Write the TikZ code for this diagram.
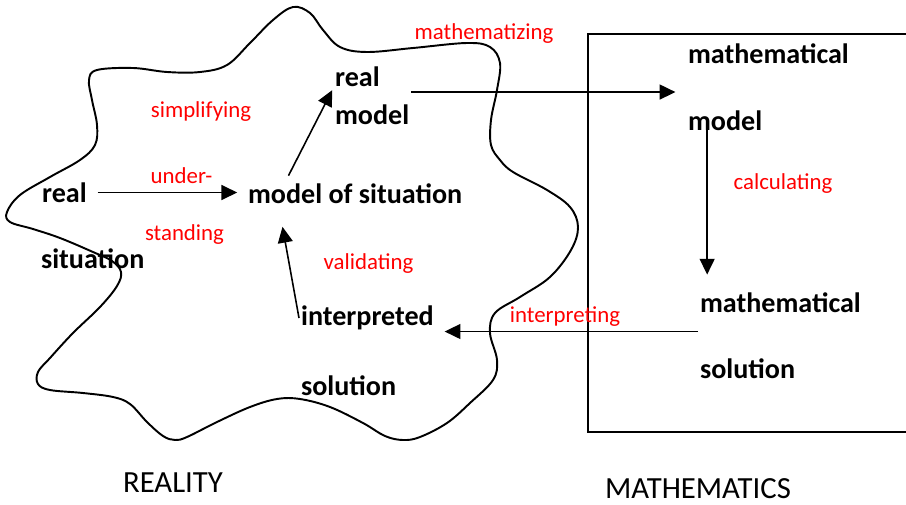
\documentclass[tikz,border=0pt]{standalone}
\usepackage{fontspec}
\setmainfont{Carlito}
\usepackage{tikz}
\usetikzlibrary{arrows.meta,calc}
\newcommand{\gunit}{0.02cm}
\newcommand{\inners}{1pt}

\begin{document}
\begin{tikzpicture}[x=\gunit, y=-\gunit]
        \tikzset{term/.style = {font=\fontsize{16}{19}\selectfont\bfseries, inner sep=\inners, anchor=west}}
        \tikzset{act/.style = {font=\fontsize{13}{15}\selectfont, text=red, inner sep=\inners}}
        \tikzset{world/.style = {font=\fontsize{17.5}{21}\selectfont, inner sep=\inners}}
        \tikzset{flow/.style = {-{Triangle[length=9pt, width=8.5pt]}, line width=0.9pt}}
        \useasboundingbox (0,0) rectangle (906,504);
        
        \draw[line width=1.1pt] plot[smooth cycle, tension=0.6] coordinates {
            (7,212) (20,195) (50,177) (80,160) (95,145) (97,125) (92,100) (89,80)
            (97,70) (133,68) (167,72) (200,72) (227,65) (250,43) (273,20) (293,7)
            (310,13) (323,30) (340,47) (367,52) (413,48) (467,43) (490,47) (500,63)
            (497,90) (491,120) (491,145) (500,160) (513,172) (547,190) (570,207) (578,227)
            (571,250) (550,277) (520,297) (495,313) (490,333) (497,360) (493,380) (470,403)
            (447,423) (420,437) (403,440) (385,436) (363,423) (330,407) (300,399) (277,399)
            (250,407) (217,422) (187,437) (175,440) (163,436) (147,422) (130,404) (113,397)
            (83,393) (50,390) (38,384) (38,372) (50,358) (73,333) (100,307) (117,286)
            (121,272) (112,261) (93,252) (60,238) (33,229) (10,222)};
        
        \draw[line width=1.1pt] (906,34) -- (588,34) -- (588,432) -- (906,432);
        
        \node[term] (realw) at (40,192.5) {real};
        \node[term] (situ) at (39,259) {situation};
        \node[term] (mos) at (246,194) {model of situation};
        \node[term] (realm) at (333,76.5) {real};
        \node[term] (modelm) at (333,114.5) {model};
        \node[term] (interp) at (299,318) {interpreted};
        \node[term] (soll) at (299,386) {solution};
        \node[term] (matha) at (686,54) {mathematical};
        \node[term] (modelr) at (686,121) {model};
        \node[term] (mathb) at (698,302.5) {mathematical};
        \node[term] (solr) at (698,369) {solution};
        
        \node[world] (reality) at (173,483) {REALITY};
        \node[world] (maths) at (698,489) {MATHEMATICS};
        
        \node[act] (simp) at (201,111.5) {simplifying};
        \node[act] (under) at (181.5,175.5) {under-};
        \node[act] (stand) at (184.5,234.5) {standing};
        \node[act] (mathz) at (484,33.5) {mathematizing};
        \node[act] (calcg) at (783,183.5) {calculating};
        \node[act] (interpg) at (565,316.5) {interpreting};
        \node[act] (valid) at (368.5,263.5) {validating};
        
        \draw[flow, shorten <=5pt, shorten >=5pt] (realw.east) -- (realw.east -| mos.west);
        \draw[flow, shorten <=4pt, shorten >=1pt] ($(mos.north west)!.18!(mos.north east)$) -- (realm.south west);
        \coordinate (gap) at ($(realm.south)!.25!(modelm.north)$);
        \draw[flow, shorten >=6pt] (gap -| modelm.east) -- (gap -| matha.west);
        \coordinate (down) at ($(modelr.south west)!.27!(modelr.south east)$);
        \draw[flow, shorten <=-5pt, shorten >=9pt] (down) -- (down |- mathb.north);
        \coordinate (back) at ($(mathb.south west)!.4!(solr.north west)$);
        \draw[flow, shorten >=5pt] (back) -- (back -| interp.east);
        \draw[flow, shorten >=12pt] (interp.west) -- ($(mos.south west)!.15!(mos.south east)$);
        
\end{tikzpicture}
\end{document}
